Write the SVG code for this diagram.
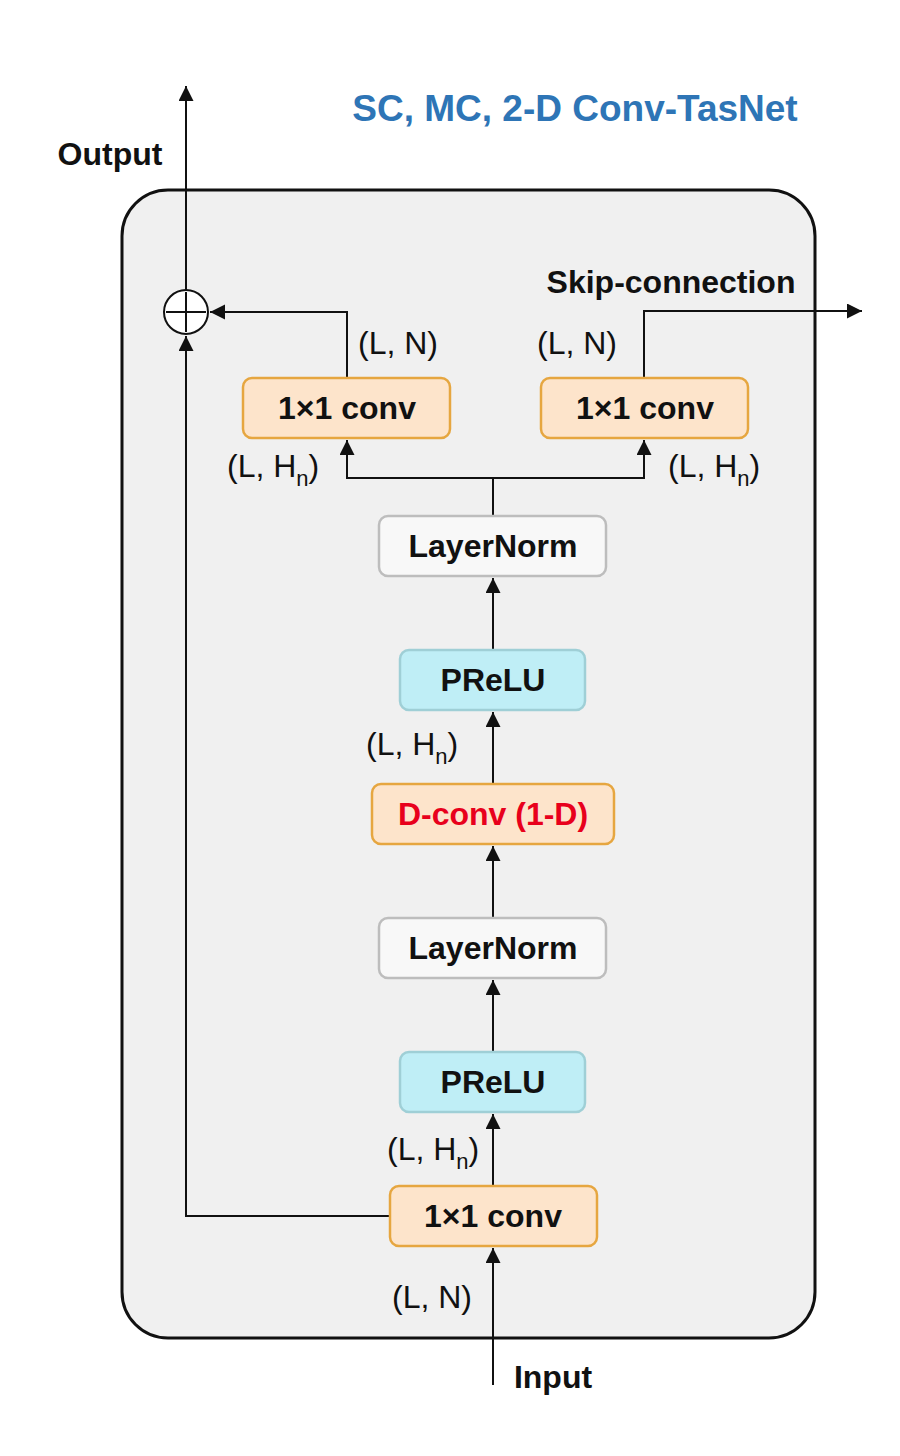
<svg xmlns="http://www.w3.org/2000/svg" width="900" height="1456" viewBox="0 0 900 1456">
<style>
.b{font-family:"Liberation Sans",Arial,sans-serif;font-weight:bold;font-size:32px;fill:#111;text-anchor:middle}
.n{font-family:"Liberation Sans",Arial,sans-serif;font-size:32px;fill:#111}
.sub{font-size:22px}
.ln{stroke:#111;stroke-width:2;fill:none}
.conv{fill:#fde4cb;stroke:#e6a640;stroke-width:2.5}
.prelu{fill:#bfeef6;stroke:#9fcfd6;stroke-width:2.5}
.norm{fill:#f8f8f8;stroke:#bdbdbd;stroke-width:2.5}
</style>
<defs>
<marker id="ah" markerUnits="userSpaceOnUse" markerWidth="16" markerHeight="16" refX="15" refY="7.5" orient="auto">
<path d="M0,0 L15,7.5 L0,15 z" fill="#111"/>
</marker>
</defs>
<rect width="900" height="1456" fill="#ffffff"/>
<g id="container">
<rect x="122" y="190" width="693" height="1148" rx="46" ry="46" fill="#f0f0f0" stroke="#111" stroke-width="3"/>
</g>
<text id="title" x="575" y="121" class="b" style="fill:#2e75b6;font-size:37px">SC, MC, 2-D Conv-TasNet</text>
<text id="output-label" x="110" y="165" class="b">Output</text>
<text id="skip-label" x="671" y="293" class="b">Skip-connection</text>
<text id="input-label" x="553" y="1388" class="b">Input</text>

<g id="connectors">
<polyline class="ln" points="390,1216 186,1216 186,336" marker-end="url(#ah)"/>
<line class="ln" x1="186" y1="290" x2="186" y2="86" marker-end="url(#ah)"/>
<polyline class="ln" points="347,378 347,312 210,312" marker-end="url(#ah)"/>
<polyline class="ln" points="644,378 644,311 862,311" marker-end="url(#ah)"/>
<line class="ln" x1="493" y1="516" x2="493" y2="478"/>
<polyline class="ln" points="493,478 347,478 347,440" marker-end="url(#ah)"/>
<polyline class="ln" points="493,478 644,478 644,440" marker-end="url(#ah)"/>
<line class="ln" x1="493" y1="650" x2="493" y2="578" marker-end="url(#ah)"/>
<line class="ln" x1="493" y1="784" x2="493" y2="712" marker-end="url(#ah)"/>
<line class="ln" x1="493" y1="918" x2="493" y2="846" marker-end="url(#ah)"/>
<line class="ln" x1="493" y1="1052" x2="493" y2="980" marker-end="url(#ah)"/>
<line class="ln" x1="493" y1="1186" x2="493" y2="1114" marker-end="url(#ah)"/>
<line class="ln" x1="493" y1="1385" x2="493" y2="1248" marker-end="url(#ah)"/>
</g>

<g id="sum">
<circle cx="186" cy="312" r="22" fill="#fff" stroke="#111" stroke-width="2"/>
<line class="ln" x1="166" y1="312" x2="206" y2="312"/>
<line class="ln" x1="186" y1="292" x2="186" y2="332"/>
</g>

<g id="conv-res">
<rect class="conv" x="243" y="378" width="207" height="60" rx="9"/>
<text class="b" x="347" y="419">1×1 conv</text>
</g>
<g id="conv-skip">
<rect class="conv" x="541" y="378" width="207" height="60" rx="9"/>
<text class="b" x="645" y="419">1×1 conv</text>
</g>
<g id="layernorm-1">
<rect class="norm" x="379" y="516" width="227" height="60" rx="9"/>
<text class="b" x="493" y="557">LayerNorm</text>
</g>
<g id="prelu-1">
<rect class="prelu" x="400" y="650" width="185" height="60" rx="9"/>
<text class="b" x="493" y="691">PReLU</text>
</g>
<g id="dconv">
<rect class="conv" x="372" y="784" width="242" height="60" rx="9"/>
<text class="b" x="493" y="825" style="fill:#e8001c">D-conv (1-D)</text>
</g>
<g id="layernorm-2">
<rect class="norm" x="379" y="918" width="227" height="60" rx="9"/>
<text class="b" x="493" y="959">LayerNorm</text>
</g>
<g id="prelu-2">
<rect class="prelu" x="400" y="1052" width="185" height="60" rx="9"/>
<text class="b" x="493" y="1093">PReLU</text>
</g>
<g id="conv-in">
<rect class="conv" x="390" y="1186" width="207" height="60" rx="9"/>
<text class="b" x="493" y="1227">1×1 conv</text>
</g>

<g id="dims">
<text class="n" x="358" y="354">(L, N)</text>
<text class="n" x="537" y="354">(L, N)</text>
<text class="n" x="392" y="1308">(L, N)</text>
<text class="n" x="227" y="477">(L, H<tspan class="sub" dy="9">n</tspan><tspan dy="-9">)</tspan></text>
<text class="n" x="668" y="477">(L, H<tspan class="sub" dy="9">n</tspan><tspan dy="-9">)</tspan></text>
<text class="n" x="366" y="755">(L, H<tspan class="sub" dy="9">n</tspan><tspan dy="-9">)</tspan></text>
<text class="n" x="387" y="1160">(L, H<tspan class="sub" dy="9">n</tspan><tspan dy="-9">)</tspan></text>
</g>
</svg>
